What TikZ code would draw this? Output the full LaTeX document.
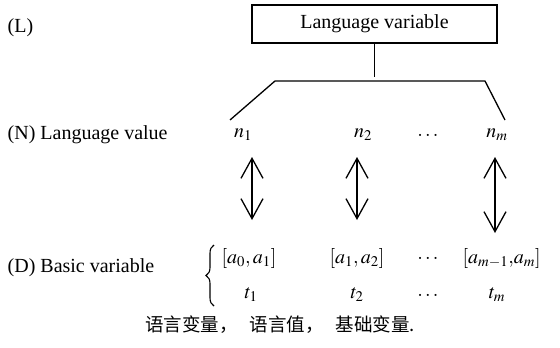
\documentclass[tikz,border=0pt]{standalone}
\usepackage{mathptmx}
\usepackage{fontspec}
\setmainfont{Liberation Serif}
\newfontfamily\cjk{Noto Sans CJK SC}
\usetikzlibrary{arrows.meta,decorations.pathreplacing}

\begin{document}
\begin{tikzpicture}[x=1pt, y=-1pt, line width=1.3pt,
  every node/.style={font=\fontsize{20}{24}\selectfont, inner sep=0pt},
  barb/.style={{Straight Barb[length=20pt,width=22pt]}-{Straight Barb[length=20pt,width=22pt]},
    shorten <=22pt}]
  \useasboundingbox (0,0) rectangle (560,348);
  % level labels
  \node[anchor=west] (L) at (7,28) {(L)};
  \node[anchor=west] (N) at (7,135) {(N) Language value};
  \node[anchor=west] (D) at (7,268) {(D) Basic variable};
  % top box and the fork below it
  \node[draw, minimum width=245pt, minimum height=38pt] (lv) at (374.5,24) {Language variable};
  \coordinate (fl) at (230,120); \coordinate (ftl) at (275,81);
  \coordinate (ftr) at (485,81); \coordinate (fr) at (505,120);
  \draw (lv.south) -- ++(0,33);
  \draw (fl) -- (ftl) -- (ftr) -- (fr);
  % language values, intervals, base values
  \foreach \n/\x/\txt in {n1/243/n_1, n2/363/n_2, ndots/428/\dots, nm/497/n_m}
    \node (\n) at (\x,135) {$\txt$};
  \foreach \n/\x/\txt in {d1/249/{[a_0, a_1]}, d2/357/{[a_1, a_2]}, ddots/428/\dots}
    \node (\n) at (\x,258) {$\txt$};
  \node[anchor=west] (dm) at (462,258) {$[a_{m-1}{,}a_m]$};
  \foreach \n/\x/\txt in {t1/251/t_1, t2/357/t_2, tdots/428/\dots, tm/497/t_m}
    \node (\n) at (\x,295) {$\txt$};
  \draw[decorate, decoration={brace, amplitude=8pt}, line width=1.1pt] (214,306) -- (214,245);
  \draw[barb, shorten >=38pt] ([xshift=9pt]n1.center) -- ([xshift=9pt]n1 |- d1);
  \draw[barb, shorten >=38pt] ([xshift=-6pt]n2.center) -- ([xshift=-6pt]n2 |- d2);
  \draw[barb, shorten >=25pt] ([xshift=-2pt]nm.center) -- ([xshift=-2pt]nm |- dm);
  % caption
  \node[font=\cjk\fontsize{18.5}{22}\selectfont] (cap) at (280,325)
    {语言变量，\hspace{12pt}语言值，\hspace{12pt}基础变量.};
\end{tikzpicture}
\end{document}
